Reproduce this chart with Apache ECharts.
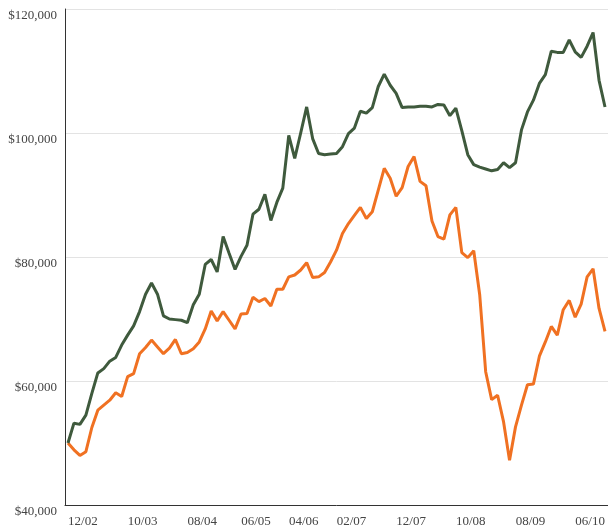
<!DOCTYPE html>
<html>
<head>
<meta charset="utf-8">
<script src="https://cdn.jsdelivr.net/npm/echarts@6/dist/echarts.min.js"></script>
<style>
html,body{margin:0;padding:0;background:#fff;}
#chart{width:608px;height:529px;}
</style>
</head>
<body>
<div id="chart"></div>
<script>
const categories = [
  '10/02','11/02','12/02','01/03','02/03','03/03','04/03','05/03','06/03','07/03',
  '08/03','09/03','10/03','11/03','12/03','01/04','02/04','03/04','04/04','05/04',
  '06/04','07/04','08/04','09/04','10/04','11/04','12/04','01/05','02/05','03/05',
  '05/05','06/05','07/05','08/05','09/05','11/05','12/05','01/06','03/06','04/06',
  '05/06','06/06','07/06','09/06','10/06','11/06','01/07','02/07','03/07','04/07',
  '05/07','06/07','07/07','08/07','09/07','10/07','11/07','12/07','01/08','02/08',
  '03/08','04/08','05/08','06/08','07/08','08/08','09/08','10/08','11/08','12/08',
  '01/09','02/09','03/09','04/09','05/09','06/09','07/09','08/09','09/09','10/09',
  '11/09','12/09','01/10','02/10','03/10','04/10','05/10','06/10','07/10','08/10',
  '09/10'
];
const tickLabels = ['12/02','10/03','08/04','06/05','04/06','02/07','12/07','10/08','08/09','06/10'];
const greenSeries = [
  50000,53200,53000,54500,58000,61300,62000,63200,63800,65800,
  67400,68900,71200,74000,75800,74000,70500,70000,69900,69800,
  69400,72300,74000,78800,79600,77600,83300,80600,78000,80100,
  81900,86900,87700,90100,85900,88800,91100,99600,95900,100000,
  104200,99100,96700,96500,96600,96700,97800,99900,100800,103500,
  103200,104100,107500,109500,107700,106400,104100,104200,104200,104300,
  104300,104200,104600,104500,102800,104000,100400,96500,94900,94500,
  94200,93900,94100,95200,94400,95200,100500,103400,105300,108000,
  109400,113200,113000,113000,115000,113100,112200,114000,116200,108500,
  104200
];
const orangeSeries = [
  50000,48900,48000,48600,52500,55300,56100,56900,58100,57500,
  60700,61200,64400,65400,66600,65500,64400,65300,66700,64400,
  64600,65200,66300,68400,71300,69700,71200,69800,68400,70800,
  70900,73500,72800,73300,72100,74800,74800,76800,77100,77900,
  79100,76700,76800,77500,79200,81100,83800,85400,86700,88000,
  86200,87300,90800,94300,92700,89800,91200,94600,96200,92200,
  91500,85800,83300,82900,86800,88000,80700,79900,81000,73900,
  61500,57000,57700,53400,47200,52600,56100,59400,59500,64000,
  66300,68800,67400,71500,73000,70300,72400,76800,78100,71700,
  68000
];
const yTicks = { min: 40000, max: 120000, interval: 20000 };

const font = 'Liberation Serif';
const chart = echarts.init(document.getElementById('chart'), null, { renderer: 'canvas' });
chart.setOption({
  animation: false,
  backgroundColor: '#ffffff',
  grid: { left: 65, right: 0, top: 9, bottom: 24, containLabel: false },
  xAxis: {
    type: 'category',
    data: categories,
    boundaryGap: true,
    axisLine: { show: true, lineStyle: { color: '#333', width: 1 } },
    axisTick: { show: false },
    splitLine: { show: false },
    axisLabel: {
      interval: function (idx, val) { return tickLabels.indexOf(val) >= 0; },
      fontFamily: font,
      fontSize: 13,
      color: '#444',
      margin: 10,
      padding: [0, 0, 0, 6],
      hideOverlap: false
    }
  },
  yAxis: {
    type: 'value',
    min: yTicks.min,
    max: yTicks.max,
    interval: yTicks.interval,
    axisLine: { show: true, lineStyle: { color: '#333', width: 1 } },
    axisTick: { show: false },
    splitLine: { show: true, lineStyle: { color: '#e3e3e3', width: 1 } },
    axisLabel: {
      formatter: function (v) { return '$' + v.toLocaleString('en-US'); },
      fontFamily: font,
      fontSize: 13,
      color: '#444',
      margin: 8,
      verticalAlign: 'top'
    }
  },
  series: [
    {
      type: 'line',
      data: orangeSeries,
      showSymbol: false,
      symbol: 'none',
      lineStyle: { color: '#f07122', width: 3 },
      z: 2
    },
    {
      type: 'line',
      data: greenSeries,
      showSymbol: false,
      symbol: 'none',
      lineStyle: { color: '#3f5a3d', width: 3 },
      z: 3
    }
  ]
});
</script>
</body>
</html>
